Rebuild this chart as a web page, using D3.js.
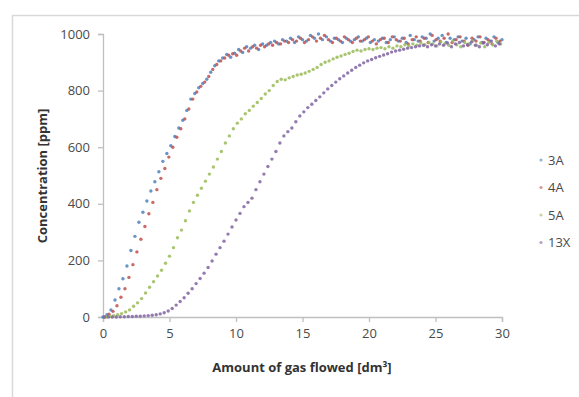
<!DOCTYPE html>
<html>
<head>
<meta charset="utf-8">
<script src="https://cdn.jsdelivr.net/npm/d3@7"></script>
<style>
  html, body { margin: 0; padding: 0; background: #fff; }
  svg { display: block; }
  text { font-family: "Open Sans", "Liberation Sans", Arial, sans-serif; }
</style>
</head>
<body>
<svg id="chart" width="579" height="397"></svg>
<script>
// Breakthrough curves: outlet concentration vs. amount of gas flowed, per sieve type
const seriesNames = ["3A", "4A", "5A", "13X"];
const seriesColors = ["#4f81bd", "#c0504d", "#9bbb59", "#8064a2"];

const xTicks = [0, 5, 10, 15, 20, 25, 30];
const yTicks = [0, 200, 400, 600, 800, 1000];

const data3A = [
  [0,0],[0.3,8],[0.6,25],[0.9,60],[1.2,100],[1.5,135],[1.8,180],[2.1,235],[2.4,285],[2.7,335],
  [3.0,370],[3.3,410],[3.6,445],[3.9,478],[4.2,513],[4.5,550],[4.8,578],[5.1,605],[5.4,638],[5.7,668],
  [6.0,695],[6.3,730],[6.6,770],[6.9,790],[7.2,810],[7.5,825],[7.8,840],[8.1,865],[8.4,888],[8.7,905],
  [9.0,915],[9.3,928],[9.6,918],[9.9,932],[10.2,945],[10.5,935],[10.8,955],[11.1,950],[11.4,960],[11.7,945],
  [12.0,965],[12.3,960],[12.6,970],[12.9,975],[13.2,965],[13.5,980],[13.8,975],[14.1,985],[14.4,970],[14.7,990],
  [15.0,980],[15.3,975],[15.6,995],[15.9,985],[16.2,1000],[16.5,980],[16.8,990],[17.1,975],[17.4,985],[17.7,980],
  [18.0,970],[18.3,985],[18.6,975],[18.9,980],[19.2,990],[19.5,975],[19.8,985],[20.1,970],[20.4,980],[20.7,975],
  [21.0,985],[21.3,970],[21.6,980],[21.9,990],[22.2,975],[22.5,985],[22.8,970],[23.1,995],[23.4,980],[23.7,975],
  [24.0,990],[24.3,985],[24.6,1000],[24.9,975],[25.2,985],[25.5,995],[25.8,970],[26.1,985],[26.4,980],[26.7,990],
  [27.0,975],[27.3,985],[27.6,965],[27.9,980],[28.2,990],[28.5,970],[28.8,985],[29.1,975],[29.4,990],[29.7,970],
  [30.0,980]
];

const data4A = [
  [0.15,0],[0.45,10],[0.75,20],[1.05,40],[1.35,70],[1.65,100],[1.95,140],[2.25,185],[2.55,230],[2.85,275],
  [3.15,320],[3.45,365],[3.75,405],[4.05,450],[4.35,490],[4.65,525],[4.95,565],[5.25,600],[5.55,635],[5.85,665],
  [6.15,700],[6.45,735],[6.75,770],[7.05,795],[7.35,815],[7.65,830],[7.95,850],[8.25,875],[8.55,892],[8.85,905],
  [9.15,915],[9.45,925],[9.75,930],[10.05,925],[10.35,940],[10.65,950],[10.95,940],[11.25,955],[11.55,950],[11.85,960],
  [12.15,955],[12.45,965],[12.75,960],[13.05,970],[13.35,965],[13.65,975],[13.95,970],[14.25,980],[14.55,975],[14.85,985],
  [15.15,970],[15.45,980],[15.75,990],[16.05,975],[16.35,985],[16.65,995],[16.95,980],[17.25,970],[17.55,985],[17.85,975],
  [18.15,990],[18.45,980],[18.75,970],[19.05,985],[19.35,975],[19.65,980],[19.95,990],[20.25,975],[20.55,965],[20.85,980],
  [21.15,985],[21.45,970],[21.75,990],[22.05,980],[22.35,975],[22.65,985],[22.95,965],[23.25,980],[23.55,990],[23.85,975],
  [24.15,985],[24.45,970],[24.75,995],[25.05,980],[25.35,975],[25.65,985],[25.95,1000],[26.25,970],[26.55,980],[26.85,990],
  [27.15,975],[27.45,960],[27.75,985],[28.05,975],[28.35,990],[28.65,970],[28.95,980],[29.25,965],[29.55,985],[29.85,975]
];

const data5A = [
  [0.2,0],[0.5,2],[0.8,5],[1.1,8],[1.4,12],[1.7,18],[2.0,25],[2.3,38],[2.6,50],[2.9,65],
  [3.2,85],[3.5,105],[3.8,125],[4.1,145],[4.4,165],[4.7,190],[5.0,215],[5.3,245],[5.6,280],[5.9,307],
  [6.2,340],[6.5,375],[6.8,405],[7.1,430],[7.4,455],[7.7,480],[8.0,505],[8.3,530],[8.6,558],[8.9,585],
  [9.2,615],[9.5,640],[9.8,665],[10.1,685],[10.4,700],[10.7,718],[11.0,730],[11.3,745],[11.6,758],[11.9,772],
  [12.2,788],[12.5,800],[12.8,818],[13.1,832],[13.4,840],[13.7,838],[14.0,845],[14.3,850],[14.6,855],[14.9,858],
  [15.2,862],[15.5,868],[15.8,875],[16.1,882],[16.4,892],[16.7,900],[17.0,905],[17.3,912],[17.6,918],[17.9,922],
  [18.2,928],[18.5,932],[18.8,938],[19.1,943],[19.4,940],[19.7,945],[20.0,948],[20.3,945],[20.6,950],[20.9,952],
  [21.2,948],[21.5,955],[21.8,950],[22.1,958],[22.4,955],[22.7,962],[23.0,958],[23.3,965],[23.6,960],[23.9,968],
  [24.2,962],[24.5,970],[24.8,965],[25.1,958],[25.4,972],[25.7,965],[26.0,960],[26.3,975],[26.6,962],[26.9,955],
  [27.2,970],[27.5,965],[27.8,975],[28.1,960],[28.4,968],[28.7,955],[29.0,970],[29.3,962],[29.6,975],[29.9,965]
];

const data13X = [
  [0.1,0],[0.4,0],[0.7,0],[1.0,0],[1.3,1],[1.6,1],[1.9,2],[2.2,2],[2.5,3],[2.8,3],
  [3.1,4],[3.4,5],[3.7,6],[4.0,8],[4.3,11],[4.6,15],[4.9,21],[5.2,30],[5.5,42],[5.8,55],
  [6.1,68],[6.4,84],[6.7,100],[7.0,118],[7.3,136],[7.6,155],[7.9,175],[8.2,198],[8.5,222],[8.8,245],
  [9.1,268],[9.4,293],[9.7,318],[10.0,343],[10.3,366],[10.6,390],[10.9,405],[11.2,420],[11.5,450],[11.8,478],
  [12.1,505],[12.4,532],[12.7,558],[13.0,585],[13.3,615],[13.6,640],[13.9,655],[14.2,668],[14.5,690],[14.8,710],
  [15.1,725],[15.4,740],[15.7,752],[16.0,765],[16.3,778],[16.6,792],[16.9,806],[17.2,818],[17.5,830],[17.8,842],
  [18.1,852],[18.4,862],[18.7,872],[19.0,882],[19.3,890],[19.6,898],[19.9,905],[20.2,910],[20.5,916],[20.8,921],
  [21.1,926],[21.4,930],[21.7,936],[22.0,940],[22.3,943],[22.6,946],[22.9,950],[23.2,952],[23.5,955],[23.8,958],
  [24.1,960],[24.4,955],[24.7,962],[25.0,958],[25.3,965],[25.6,960],[25.9,968],[26.2,955],[26.5,965],[26.8,970],
  [27.1,958],[27.4,962],[27.7,972],[28.0,960],[28.3,955],[28.6,968],[28.9,962],[29.2,975],[29.5,958],[29.8,965]
];

const seriesData = [data3A, data4A, data5A, data13X];

const svg = d3.select("#chart");

// chart area frame
svg.append("rect")
  .attr("x", 12.5).attr("y", 15.5)
  .attr("width", 620).attr("height", 420)
  .attr("fill", "none").attr("stroke", "#d9d9d9").attr("stroke-width", 1.5);

const plot = { left: 103, right: 502, top: 34, bottom: 317 };

const x = d3.scaleLinear().domain([0, 30]).range([plot.left, plot.right]);
const y = d3.scaleLinear().domain([0, 1000]).range([plot.bottom, plot.top]);

const axisColor = "#bfbfbf";
const labelColor = "#4a4a4a";

// x axis
const gx = svg.append("g")
  .attr("transform", `translate(0,${plot.bottom})`)
  .call(d3.axisBottom(x).tickValues(xTicks).tickSize(5).tickPadding(7).tickFormat(d3.format("d")));
// y axis
const gy = svg.append("g")
  .attr("transform", `translate(${plot.left},0)`)
  .call(d3.axisLeft(y).tickValues(yTicks).tickSize(5).tickPadding(8).tickFormat(d3.format("d")));

[gx, gy].forEach(g => {
  g.select(".domain").attr("stroke", axisColor).attr("stroke-width", 1.3);
  g.selectAll(".tick line").attr("stroke", axisColor).attr("stroke-width", 1.3);
  g.selectAll(".tick text")
    .attr("fill", labelColor)
    .style("font-size", "13px");
});

// axis titles
svg.append("text")
  .attr("x", 302).attr("y", 372)
  .attr("text-anchor", "middle")
  .attr("fill", "#333")
  .style("font-size", "13px").style("font-weight", "bold")
  .text("Amount of gas flowed [dm³]");

svg.append("text")
  .attr("transform", "translate(47,176) rotate(-90)")
  .attr("text-anchor", "middle")
  .attr("fill", "#333")
  .style("font-size", "13px").style("font-weight", "bold")
  .text("Concentration [ppm]");

// scatter markers
seriesData.forEach((pts, i) => {
  svg.append("g")
    .selectAll("circle")
    .data(pts)
    .join("circle")
    .attr("cx", d => x(d[0]))
    .attr("cy", d => y(d[1]))
    .attr("r", 1.7)
    .attr("fill", seriesColors[i])
    .attr("fill-opacity", 0.85);
});

// legend
const legend = svg.append("g").attr("transform", "translate(541,160)");
seriesNames.forEach((name, i) => {
  const row = legend.append("g").attr("transform", `translate(0,${i * 27.5})`);
  row.append("circle").attr("r", 1.6).attr("fill", seriesColors[i]).attr("fill-opacity", 0.6);
  row.append("text")
    .attr("x", 7).attr("dy", "0.35em")
    .attr("fill", labelColor)
    .style("font-size", "13px")
    .text(name);
});
</script>
</body>
</html>
